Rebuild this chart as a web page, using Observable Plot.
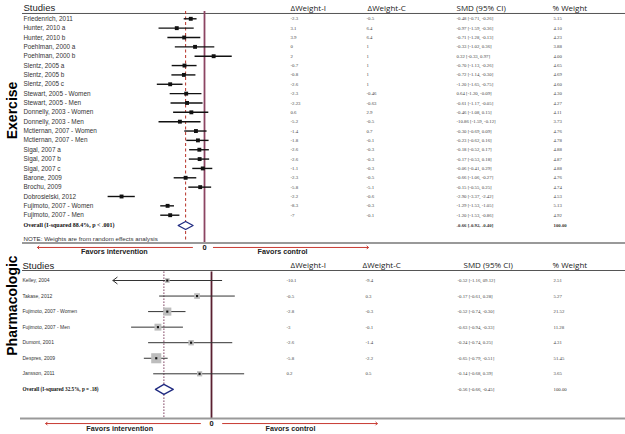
<!DOCTYPE html>
<html><head><meta charset="utf-8">
<script src="https://cdn.jsdelivr.net/npm/d3@7"></script>
<script src="https://cdn.jsdelivr.net/npm/@observablehq/plot@0.6"></script>
<style>body{margin:0;background:#fff} svg{display:block}</style>
</head><body><div id="chart"></div>
<script>
// ---------- Exercise ----------
const exStudies = ["Friedenrich, 2011","Hunter, 2010 a","Hunter, 2010 b","Poehlman, 2000 a","Poehlman, 2000 b","Slentz, 2005 a","Slentz, 2005 b","Slentz, 2005 c","Stewart, 2005 - Women","Stewart, 2005 - Men","Donnelly, 2003 - Women","Donnelly, 2003 - Men","Mctiernan, 2007 - Women","Mctiernan, 2007 - Men","Sigal, 2007 a","Sigal, 2007 b","Sigal, 2007 c","Barone, 2009","Brochu, 2009","Dobrosielski, 2012","Fujimoto, 2007 - Women","Fujimoto, 2007 - Men"];
const exDwI = ["-2.3","3.1","3.9","0","2","-0.7","-0.8","-2.6","-2.3","-2.23","0.6","-5.2","-1.4","-1.8","-2.6","-2.6","-1.1","-2.3","-5.8","-2.2","-8.3","-7"];
const exDwC = ["-0.5","6.4","6.4","1","1","1","1","1","-0.46","-0.63","2.9","-0.5","0.7","-0.1","-0.3","-0.3","-0.3","-0.5","-5.1","-0.6","-0.3","-0.1"];
const exSmd = [-0.48,-0.97,-0.71,-0.33,0.32,-0.70,-0.72,-1.20,-0.64,-0.61,-0.46,-0.86,-0.30,-0.23,-0.18,-0.17,-0.06,-0.66,-0.15,-2.90,-1.29,-1.20];
const exLo = [-0.71,-1.59,-1.28,-1.02,-0.33,-1.13,-1.14,-1.65,-1.20,-1.17,-1.08,-1.59,-0.69,-0.62,-0.52,-0.53,-0.41,-1.06,-0.55,-3.37,-1.53,-1.53];
const exHi = [-0.26,-0.36,-0.13,0.36,0.97,-0.26,-0.30,-0.75,-0.09,-0.05,0.15,-0.12,0.09,0.16,0.17,0.18,0.29,-0.27,0.25,-2.42,-1.05,-0.86];
const exSmdLabels = ["-0.48 [-0.71, -0.26]","-0.97 [-1.59, -0.36]","-0.71 [-1.28, -0.13]","-0.33 [-1.02, 0.36]","0.32 [-0.33, 0.97]","-0.70 [-1.13, -0.26]","-0.72 [-1.14, -0.30]","-1.20 [-1.65, -0.75]","0.64 [-1.20, -0.09]","-0.61 [-1.17, -0.05]","-0.46 [-1.08, 0.15]","-10.86 [-1.59, -0.12]","-0.30 [-0.69, 0.09]","-0.23 [-0.62, 0.16]","-0.18 [-0.52, 0.17]","-0.17 [-0.53, 0.18]","-0.06 [-0.41, 0.29]","-0.66 [-1.06, -0.27]","-0.15 [-0.55, 0.25]","-2.90 [-3.37, -2.42]","-1.29 [-1.53, -1.05]","-1.20 [-1.53, -0.86]"];
const exWeights = ["5.15","4.10","4.23","3.88","4.00","4.65","4.69","4.60","4.30","4.27","4.11","3.73","4.76","4.78","4.88","4.87","4.88","4.76","4.74","4.53","5.13","4.92"];
const exOverall = [-0.66, -0.92, -0.40];
const exOverallTitle = "Overall (I-squared 88.4%, p < .001)";
const exOverallLabel = "-0.66 [-0.92, -0.40]";

// ---------- Pharmacologic ----------
const phStudies = ["Kelley, 2004","Takase, 2012","Fujimoto, 2007 - Women","Fujimoto, 2007 - Men","Dumont, 2001","Despres, 2009","Jansson, 2011"];
const phDwI = ["-10.1","-0.5","-2.8","-3","-2.6","-5.8","0.2"];
const phDwC = ["-9.4","0.3","-0.3","-0.1","-1.4","-2.2","0.5"];
const phSmd = [-0.52,-0.17,-0.52,-0.63,-0.24,-0.65,-0.14];
const phLo = [-1.16,-0.61,-0.74,-0.94,-0.74,-0.79,-0.68];
const phHi = [0.12,0.28,-0.30,-0.33,0.25,-0.51,0.39];
const phSmdLabels = ["-0.52 [-1.16, 09.12]","-0.17 [-0.61, 0.28]","-0.52 [-0.74, -0.30]","-0.63 [-0.94, -0.33]","-0.24 [-0.74, 0.25]","-0.65 [-0.79, -0.51]","-0.14 [-0.68, 0.39]"];
const phWeights = ["2.51","5.27","21.52","11.28","4.31","51.45","3.65"];
const phOverall = [-0.56, -0.66, -0.45];
const phOverallTitle = "Overall (I-squared 32.5%, p = .18)";
const phOverallLabel = "-0.56 [-0.66, -0.45]";

const headers = ["Studies","ΔWeight-I","ΔWeight-C","SMD (95% CI)","% Weight"];
const favorLabels = ["Favors intervention","Favors control"];

const SANS = "'Liberation Sans', Arial, sans-serif";
const SERIF = "'Liberation Serif', 'Times New Roman', serif";
const HEAD = "'Open Sans', sans-serif";

function forest(o) {
  const rows = o.studies.map((s, i) => ({
    i, study: s, dwi: o.dwI[i], dwc: o.dwC[i], smd: o.smd[i], lo: o.lo[i], hi: o.hi[i],
    label: o.labels[i], w: o.weights[i], arrow: o.lo[i] < o.arrowBelow
  }));
  const P = o.pos;
  const [ovS, ovL, ovH] = o.overall;
  const dia = [
    {x: ovL, y: P.overall}, {x: ovS, y: P.overall - o.dh}, {x: ovH, y: P.overall},
    {x: ovS, y: P.overall + o.dh}, {x: ovL, y: P.overall}
  ];
  const marks = [];
  headers.forEach((h, k) => {
    marks.push(Plot.text([h], {y: () => P.head, frameAnchor: "left", dx: o.headDx[k], textAnchor: "start",
      fontFamily: k === 0 ? SANS : HEAD, fontSize: k === 0 ? 9.5 : 8, fill: "#222"}));
  });
  marks.push(Plot.ruleY([P.headLine], {insetLeft: 22, stroke: "#555", strokeWidth: 1}));
  marks.push(Plot.ruleX([ovS], {y1: P.zeroTop, y2: P.axis, stroke: o.dashColor, strokeWidth: 1, strokeDasharray: o.dash}));
  marks.push(Plot.ruleX([0], {y1: P.zeroTop, y2: P.axis, stroke: o.zeroColor, strokeWidth: 1.8}));
  marks.push(Plot.ruleY(rows.filter(d => !d.arrow), {y: "i", x1: "lo", x2: "hi", stroke: o.ciColor, strokeWidth: o.ciWidth}));
  marks.push(Plot.arrow(rows.filter(d => d.arrow), {x1: "hi", x2: "lo", y1: "i", y2: "i", stroke: o.ciColor, strokeWidth: o.ciWidth, headLength: 8, headAngle: 75}));
  if (o.boxes) {
    marks.push(Plot.dot(rows, {x: "smd", y: "i", symbol: "square", r: d => o.boxK * Math.sqrt(+d.w), fill: "#bdbdbd", stroke: "none"}));
  }
  marks.push(Plot.dot(rows, {x: "smd", y: "i", symbol: "square", r: o.pointR, fill: "#111", stroke: "none"}));
  marks.push(Plot.line(dia, {x: "x", y: "y", stroke: "#1f2a80", strokeWidth: 1.3, fill: "white"}));
  const cols = [
    {key: "study", font: SANS, size: o.nameSize, fill: "#333"},
    {key: "dwi", font: SERIF, size: 4.8, fill: "#444"},
    {key: "dwc", font: SERIF, size: 4.8, fill: "#444"},
    {key: "label", font: SERIF, size: 4.8, fill: "#444"},
    {key: "w", font: SERIF, size: 4.8, fill: "#444"}
  ];
  cols.forEach((c, k) => {
    marks.push(Plot.text(rows, {y: "i", text: c.key, frameAnchor: "left", dx: o.colDx[k], textAnchor: "start",
      fontFamily: c.font, fontSize: c.size, fill: c.fill}));
  });
  marks.push(Plot.text([o.overallTitle], {y: () => P.overall, frameAnchor: "left", dx: o.colDx[0], textAnchor: "start",
    fontFamily: SERIF, fontWeight: "bold", fontSize: o.overallSize, fill: "#111"}));
  marks.push(Plot.text([o.overallLabel], {y: () => P.overall, frameAnchor: "left", dx: o.colDx[3], textAnchor: "start",
    fontFamily: SERIF, fontWeight: o.overallBold ? "bold" : "normal", fontSize: 4.8, fill: "#333"}));
  marks.push(Plot.text(["100.00"], {y: () => P.overall, frameAnchor: "left", dx: o.colDx[4], textAnchor: "start",
    fontFamily: SERIF, fontWeight: o.overallBold ? "bold" : "normal", fontSize: 4.8, fill: "#333"}));
  if (o.note) {
    marks.push(Plot.text([o.note], {y: () => P.note, frameAnchor: "left", dx: o.colDx[0], textAnchor: "start",
      fontFamily: SANS, fontSize: 6.2, fill: "#333"}));
  }
  marks.push(Plot.ruleY([P.axis], {insetLeft: o.axisInset, stroke: "#999", strokeWidth: 2}));
  marks.push(Plot.arrow(o.favorArrows, {x1: "from", x2: "to", y1: () => P.arrow, y2: () => P.arrow,
    stroke: "#c83a32", strokeWidth: 1, headLength: 3, headAngle: 90}));
  marks.push(Plot.text(["0"], {x: () => 0, y: () => P.arrow, fontFamily: SANS, fontWeight: "bold", fontSize: 7.5, fill: "#111"}));
  marks.push(Plot.text(favorLabels, {x: (d, i) => o.favorX[i], y: () => P.favor, fontFamily: SANS, fontWeight: "bold", fontSize: 7.2, fill: "#222"}));
  marks.push(Plot.text([o.group], {y: () => P.group, frameAnchor: "left", dx: 12, rotate: -90, textAnchor: "middle",
    fontFamily: SANS, fontWeight: "bold", fontSize: 14, fill: "#000"}));

  return Plot.plot({
    width: 625, height: o.height, margin: 0,
    x: {domain: o.xDomain, axis: null},
    y: {domain: [0, rows.length - 1], range: o.yRange, axis: null},
    style: {background: "white"},
    marks
  });
}

const exerciseChart = forest({
  studies: exStudies, dwI: exDwI, dwC: exDwC, smd: exSmd, lo: exLo, hi: exHi, labels: exSmdLabels, weights: exWeights,
  overall: exOverall, overallTitle: exOverallTitle, overallLabel: exOverallLabel, overallBold: true, overallSize: 6,
  note: "NOTE: Weights are from random effects analysis",
  group: "Exercise", height: 255,
  xDomain: [-204 / 28.6, 421 / 28.6], yRange: [18.3, 214.7],
  pos: {head: -1.15, headLine: -0.57, zeroTop: -0.78, overall: 22.1, note: 23.5, axis: 23.97, arrow: 24.45, favor: 24.94, group: 9.8},
  dh: 0.43, headDx: [23, 290, 367, 456, 552], colDx: [23, 290, 366, 456, 553],
  nameSize: 6.4, boxes: false, pointR: 2.2, ciColor: "#111", ciWidth: 1.4, arrowBelow: -99,
  dashColor: "#b83228", dash: "3,2.5", zeroColor: "#8c4462", axisInset: 22,
  favorArrows: [{from: -0.42, to: -5.84}, {from: 0.31, to: 5.73}], favorX: [-3.15, 2.73]
});

const pharmaChart = forest({
  studies: phStudies, dwI: phDwI, dwC: phDwC, smd: phSmd, lo: phLo, hi: phHi, labels: phSmdLabels, weights: phWeights,
  overall: phOverall, overallTitle: phOverallTitle, overallLabel: phOverallLabel, overallBold: false, overallSize: 5.2,
  note: null,
  group: "Pharmacologic", height: 179,
  xDomain: [-211 / 85, 414 / 85], yRange: [25, 118.3],
  pos: {head: -0.965, headLine: -0.643, zeroTop: -0.55, overall: 7.0, axis: 8.875, arrow: 9.2, favor: 9.55, group: 1.61},
  dh: 0.32, headDx: [22, 290, 362, 463, 552], colDx: [22, 286, 365, 457, 553],
  nameSize: 5, boxes: true, boxK: 1.0, pointR: 1.2, ciColor: "#333", ciWidth: 1, arrowBelow: -1.0,
  dashColor: "#7a3a5a", dash: "1.5,1.5", zeroColor: "#5a1f30", axisInset: 20,
  favorArrows: [{from: -0.13, to: -1.95}, {from: 0.13, to: 1.95}], favorX: [-1.08, 0.93]
});

const root = document.getElementById("chart");
root.appendChild(exerciseChart);
root.appendChild(pharmaChart);
</script>
</body></html>
